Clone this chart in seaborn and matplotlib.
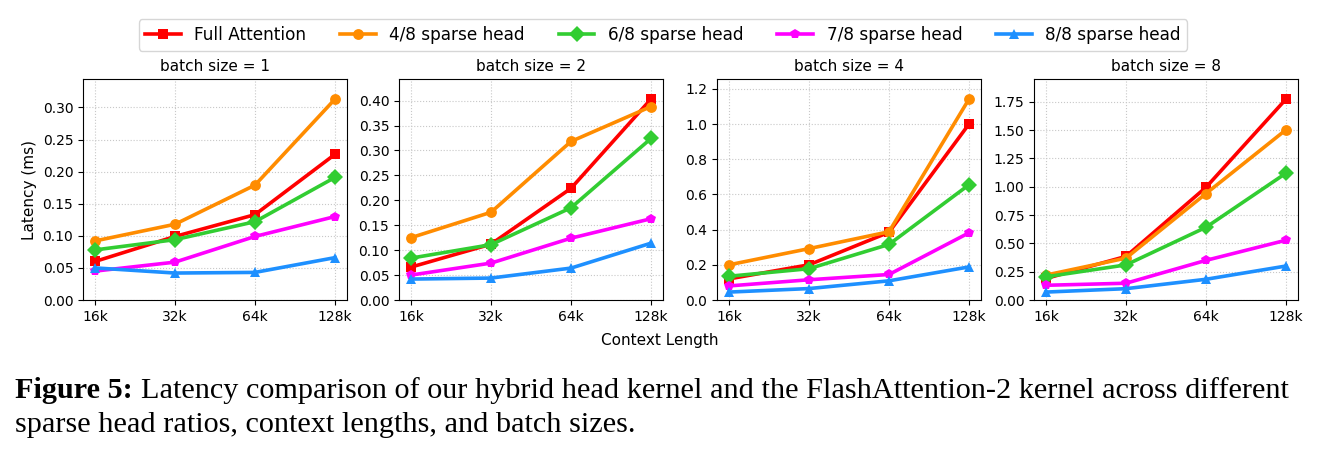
#!/usr/bin/env python3

# plot.py
#
# Latency of hybrid head kernel vs full attention, one panel per batch size.
import matplotlib
matplotlib.use('Agg')
import matplotlib.pyplot as plt
from matplotlib.ticker import MultipleLocator
import pandas as pd
import seaborn as sns


CONTEXT = ['16k', '32k', '64k', '128k']
BATCH_SIZES = [1, 2, 4, 8]
SERIES = ['Full Attention', '4/8 sparse head', '6/8 sparse head',
          '7/8 sparse head', '8/8 sparse head']

# latency (ms), one list per batch size, rows follow SERIES
BS1 = [[0.060, 0.099, 0.133, 0.227],
       [0.092, 0.118, 0.179, 0.313],
       [0.078, 0.094, 0.122, 0.191],
       [0.045, 0.059, 0.099, 0.130],
       [0.050, 0.042, 0.043, 0.066]]
BS2 = [[0.066, 0.112, 0.224, 0.403],
       [0.125, 0.176, 0.318, 0.388],
       [0.084, 0.111, 0.185, 0.324],
       [0.050, 0.074, 0.124, 0.163],
       [0.042, 0.044, 0.064, 0.114]]
BS4 = [[0.120, 0.200, 0.385, 1.000],
       [0.200, 0.292, 0.388, 1.142],
       [0.135, 0.178, 0.316, 0.655],
       [0.080, 0.115, 0.145, 0.382],
       [0.045, 0.065, 0.109, 0.188]]
BS8 = [[0.190, 0.385, 0.995, 1.774],
       [0.220, 0.370, 0.940, 1.503],
       [0.205, 0.310, 0.642, 1.120],
       [0.130, 0.148, 0.350, 0.528],
       [0.070, 0.100, 0.183, 0.300]]
Y_STEPS = [0.05, 0.05, 0.2, 0.25]

COLORS = ['red', 'darkorange', 'limegreen', 'magenta', 'dodgerblue']
MARKERS = ['s', 'o', 'D', 'p', '^']


def build_frame():
    rows = []
    for bs, table in zip(BATCH_SIZES, [BS1, BS2, BS4, BS8]):
        for name, values in zip(SERIES, table):
            for i, v in enumerate(values):
                rows.append({'batch': bs, 'series': name, 'pos': i,
                             'ctx': CONTEXT[i], 'latency': v})
    return pd.DataFrame(rows)


def main():
    data = build_frame()
    palette = dict(zip(SERIES, COLORS))
    markers = dict(zip(SERIES, MARKERS))

    fig = plt.figure(figsize=(13.27, 4.55), dpi=100)
    lefts = [83, 399, 717, 1034]
    width, bottom, top = 264, 300, 79
    W, H = 1327, 455

    for k, bs in enumerate(BATCH_SIZES):
        ax = fig.add_axes([lefts[k] / W, 1 - bottom / H, width / W, (bottom - top) / H])
        sub = data[data['batch'] == bs]
        sns.lineplot(data=sub, x='pos', y='latency', hue='series', style='series',
                     hue_order=SERIES, style_order=SERIES, palette=palette,
                     markers=markers, dashes=False, linewidth=2.6, markersize=7.8,
                     markeredgewidth=0, ax=ax, legend=(k == 0))
        ax.set_xticks(range(len(CONTEXT)))
        ax.set_xticklabels(CONTEXT)
        ax.yaxis.set_major_locator(MultipleLocator(Y_STEPS[k]))
        ax.set_ylim(0, sub['latency'].max() * 1.1)
        ax.grid(True, linestyle=':', color='#c8c8c8', linewidth=0.8)
        ax.set_axisbelow(True)
        ax.set_title('batch size = {}'.format(bs), fontsize=11)
        ax.set_xlabel('')
        ax.set_ylabel('Latency (ms)' if k == 0 else '', fontsize=11)
        ax.tick_params(labelsize=10)
        if k == 0:
            handles, labels = ax.get_legend_handles_labels()
            ax.get_legend().remove()

    fig.legend(handles, labels, loc='center', bbox_to_anchor=(663 / W, 1 - 35 / H),
               ncol=5, fontsize=12.2, frameon=True, handlelength=2.1,
               columnspacing=2.0, borderpad=0.4)
    fig.text(660 / W, 1 - 340 / H, 'Context Length', ha='center', va='center', fontsize=11)

    # caption
    serif = 'Liberation Serif'
    fig.canvas.draw()
    renderer = fig.canvas.get_renderer()
    t = fig.text(15 / W, 1 - 398 / H, 'Figure 5:', fontsize=21.8, fontweight='bold',
                 family=serif, va='baseline')
    bb = t.get_window_extent(renderer=renderer)
    fig.text((bb.x1 + 8) / W, 1 - 398 / H,
             'Latency comparison of our hybrid head kernel and the FlashAttention-2 kernel across different',
             fontsize=21.8, family=serif, va='baseline')
    fig.text(15 / W, 1 - 432 / H, 'sparse head ratios, context lengths, and batch sizes.',
             fontsize=21.8, family=serif, va='baseline')

    fig.savefig('out.png', dpi=100)
    plt.close(fig)


if __name__ == '__main__':
    main()
